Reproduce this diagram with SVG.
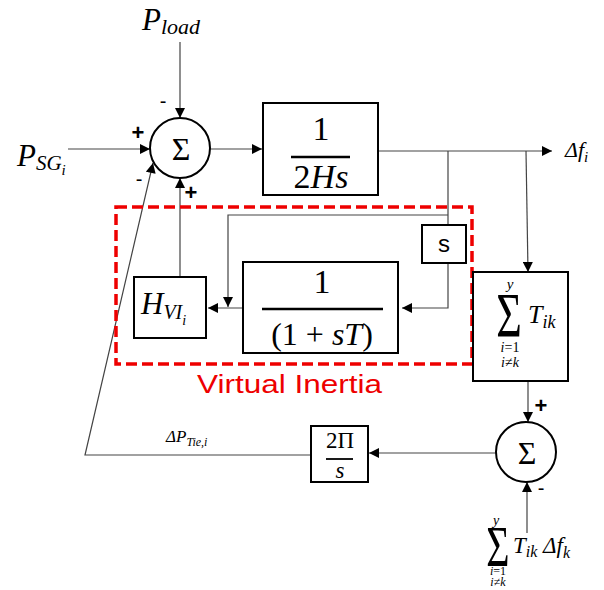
<svg xmlns="http://www.w3.org/2000/svg" width="604" height="590" viewBox="0 0 604 590">
<style>
.box{fill:#fff;stroke:#000;stroke-width:2}
.ln{fill:none;stroke:#444;stroke-width:1.2}
.m{font-family:"Liberation Serif","DejaVu Serif",serif;fill:#000}
.it{font-style:italic}
.sg{font-family:"Liberation Sans",Arial,sans-serif;fill:#000}
.frac{stroke:#000;stroke-width:2.5}
</style>
<defs>
<marker id="ah" viewBox="0 0 10 10" refX="10" refY="5" markerWidth="11" markerHeight="10" markerUnits="userSpaceOnUse" orient="auto">
<path d="M0,0 L10,5 L0,10 z" fill="#000"/>
</marker>
</defs>
<rect width="604" height="590" fill="#fff"/>

<g id="connectors">
<line class="ln" x1="180" y1="42" x2="180" y2="118" marker-end="url(#ah)"/>
<line class="ln" x1="68" y1="149" x2="150" y2="149" marker-end="url(#ah)"/>
<line class="ln" x1="210" y1="149" x2="262" y2="149" marker-end="url(#ah)"/>
<line class="ln" x1="368" y1="151" x2="552" y2="151" marker-end="url(#ah)"/>
<line class="ln" x1="448" y1="151" x2="448" y2="225"/>
<polyline class="ln" points="448,215 228,215 228,307" marker-end="url(#ah)"/>
<polyline class="ln" points="448,263 448,308 402,308" marker-end="url(#ah)"/>
<line class="ln" x1="243" y1="308" x2="208" y2="308" marker-end="url(#ah)"/>
<line class="ln" x1="180" y1="277" x2="180" y2="178" marker-end="url(#ah)"/>
<line class="ln" x1="526" y1="151" x2="528" y2="272" marker-end="url(#ah)"/>
<line class="ln" x1="528" y1="381" x2="528" y2="422" marker-end="url(#ah)"/>
<line class="ln" x1="527" y1="533" x2="527" y2="482" marker-end="url(#ah)"/>
<line class="ln" x1="497" y1="453" x2="369" y2="453" marker-end="url(#ah)"/>
<polyline class="ln" points="311,455 85,455 153,163" marker-end="url(#ah)"/>
</g>

<g id="P_load">
<text class="m it" x="142" y="30" font-size="31">P<tspan font-size="22" dy="4">load</tspan></text>
</g>
<g id="P_SG">
<text class="m it" x="17" y="166" font-size="31">P<tspan font-size="21" dy="4">SG</tspan><tspan font-size="15" dy="5">i</tspan></text>
</g>

<g id="sum1">
<circle cx="180" cy="148" r="30" fill="#fff" stroke="#000" stroke-width="2"/>
<text class="m" x="181" y="160" font-size="32" text-anchor="middle">Σ</text>
<text class="sg" x="163" y="108" font-size="20" text-anchor="middle">-</text>
<text class="sg" x="138" y="140" font-size="22" font-weight="bold" text-anchor="middle">+</text>
<text class="sg" x="139" y="186" font-size="20" text-anchor="middle">-</text>
<text class="sg" x="191" y="200" font-size="22" font-weight="bold" text-anchor="middle">+</text>
</g>

<g id="block_2Hs">
<rect class="box" x="263" y="103" width="115" height="92"/>
<text class="m" x="321" y="140" font-size="34" text-anchor="middle">1</text>
<line class="frac" x1="291" y1="157" x2="350" y2="157"/>
<text class="m" x="321" y="188" font-size="34" text-anchor="middle">2<tspan class="it">Hs</tspan></text>
</g>

<g id="delta_fi">
<text class="m it" x="565" y="157" font-size="22">Δf<tspan font-size="15" dy="5">i</tspan></text>
</g>

<g id="virtual_inertia">
<rect x="116" y="207" width="356" height="157" fill="none" stroke="#e00" stroke-width="3.5" stroke-dasharray="11,5"/>
<text x="197" y="393" font-family="'Liberation Sans',Arial,sans-serif" font-size="26" fill="#e00" textLength="185" lengthAdjust="spacingAndGlyphs">Virtual Inertia</text>
</g>

<g id="block_s">
<rect class="box" x="422" y="225" width="44" height="38"/>
<text class="sg" x="444" y="252" font-size="24" text-anchor="middle">s</text>
</g>

<g id="block_sT">
<rect class="box" x="243" y="262" width="155" height="91"/>
<text class="m" x="322" y="293" font-size="34" text-anchor="middle">1</text>
<line class="frac" x1="262" y1="309" x2="383" y2="309"/>
<text class="m" x="322" y="345" font-size="32" text-anchor="middle">(1 + <tspan class="it">sT</tspan>)</text>
</g>

<g id="block_HVI">
<rect class="box" x="134" y="277" width="72" height="61"/>
<text class="m it" x="141" y="314" font-size="31">H<tspan font-size="20" dy="5">VI</tspan><tspan font-size="14" dy="6">i</tspan></text>
</g>

<g id="block_Tik">
<rect class="box" x="473" y="272" width="95" height="109"/>
<text class="m" font-size="44" text-anchor="middle" transform="translate(509,337) scale(1,1.45)">Σ</text>
<text class="m it" x="510" y="289" font-size="15" text-anchor="middle">y</text>
<text class="m it" x="528" y="323" font-size="26">T<tspan font-size="18" dy="5">ik</tspan></text>
<text class="m it" x="510" y="352" font-size="14" text-anchor="middle">i<tspan font-style="normal">=1</tspan></text>
<text class="m it" x="510" y="367" font-size="14" text-anchor="middle">i<tspan font-style="normal">≠</tspan>k</text>
</g>

<g id="sum2">
<circle cx="526" cy="452" r="30" fill="#fff" stroke="#000" stroke-width="2"/>
<text class="m" x="527" y="464" font-size="32" text-anchor="middle">Σ</text>
<text class="sg" x="541" y="413" font-size="22" font-weight="bold" text-anchor="middle">+</text>
<text class="sg" x="541" y="495" font-size="20" text-anchor="middle">-</text>
</g>

<g id="block_2pi">
<rect class="box" x="311" y="426" width="57" height="56"/>
<text class="m" x="340" y="448" font-size="23" text-anchor="middle">2Π</text>
<line x1="326" y1="459" x2="353" y2="459" stroke="#000" stroke-width="1.8"/>
<text class="m it" x="340" y="478" font-size="23" text-anchor="middle">s</text>
</g>

<g id="label_PTie">
<text class="m it" x="166" y="442" font-size="17">ΔP<tspan font-size="12" dy="4">Tie,i</tspan></text>
</g>

<g id="label_bottom">
<text class="m" font-size="40" text-anchor="middle" transform="translate(498,566) scale(1,1.45)">Σ</text>
<text class="m it" x="496" y="525" font-size="14" text-anchor="middle">y</text>
<text class="m it" x="513" y="553" font-size="23">T<tspan font-size="16" dy="4">ik</tspan><tspan font-size="23" dy="-4"> Δf</tspan><tspan font-size="16" dy="5">k</tspan></text>
<text class="m it" x="498" y="575" font-size="12" text-anchor="middle">i<tspan font-style="normal">=1</tspan></text>
<text class="m it" x="498" y="586" font-size="12" text-anchor="middle">i<tspan font-style="normal">≠</tspan>k</text>
</g>
</svg>
